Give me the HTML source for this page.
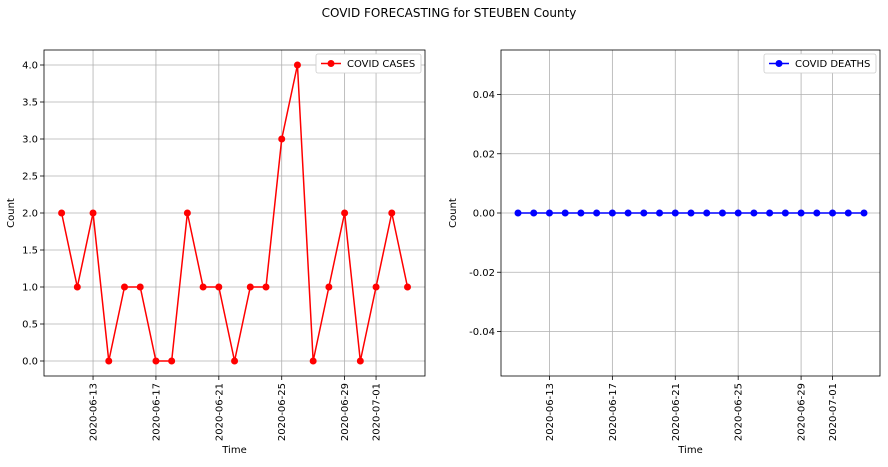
<!DOCTYPE html>
<html><head><meta charset="utf-8"><style>
body{margin:0;background:#fff;font-family:"Liberation Sans","DejaVu Sans",sans-serif;}
svg text{font-family:"DejaVu Sans","Liberation Sans",sans-serif;}
</style></head><body>
<svg id="c" width="888" height="462" xmlns="http://www.w3.org/2000/svg">
<text x="449" y="17" font-size="12" text-anchor="middle">COVID FORECASTING for STEUBEN County</text>
</svg>
<script>
const dates=["2020-06-11","2020-06-12","2020-06-13","2020-06-14","2020-06-15","2020-06-16","2020-06-17","2020-06-18","2020-06-19","2020-06-20","2020-06-21","2020-06-22","2020-06-23","2020-06-24","2020-06-25","2020-06-26","2020-06-27","2020-06-28","2020-06-29","2020-06-30","2020-07-01","2020-07-02","2020-07-03"];
const cases=[2,1,2,0,1,1,0,0,2,1,1,0,1,1,3,4,0,1,2,0,1,2,1];
const deaths=[0,0,0,0,0,0,0,0,0,0,0,0,0,0,0,0,0,0,0,0,0,0,0];
const xTicks=["2020-06-13","2020-06-17","2020-06-21","2020-06-25","2020-06-29","2020-07-01"];
const casesYTicks=[0,0.5,1,1.5,2,2.5,3,3.5,4];
const deathsYTicks=[-0.04,-0.02,0,0.02,0.04];
const svg=document.getElementById('c');
const NS="http://www.w3.org/2000/svg";
function mk(t,a,p){const e=document.createElementNS(NS,t);for(const k in a)e.setAttribute(k,a[k]);(p||svg).appendChild(e);return e;}
const day=s=>Date.parse(s)/864e5;
function panel(o){
 const g=mk('g',{});
 
 
 const d0=day(dates[0]),d1=day(dates[dates.length-1]);
 const x=s=>o.px0+(day(s)-d0)/(d1-d0)*(o.px1-o.px0);
 const y=v=>o.y0px+(v-o.y0v)/(o.y1v-o.y0v)*(o.y1px-o.y0px);
 mk('rect',{x:o.l,y:50,width:o.r-o.l,height:326,fill:'#fff'},g);
 xTicks.forEach(t=>{const xx=x(t);
  mk('line',{x1:xx,x2:xx,y1:50,y2:376,stroke:'#b0b0b0','stroke-width':0.8},g);
  mk('line',{x1:xx,x2:xx,y1:376,y2:380,stroke:'#000','stroke-width':0.8},g);
  const tx=mk('text',{x:0,y:0,'font-size':10,'text-anchor':'end',transform:`translate(${xx+3.5},383) rotate(-90)`},g);tx.textContent=t;
  
  
 });
 o.yt.forEach(v=>{const yy=y(v);
  mk('line',{x1:o.l,x2:o.r,y1:yy,y2:yy,stroke:'#b0b0b0','stroke-width':0.8},g);
  mk('line',{x1:o.l-4,x2:o.l,y1:yy,y2:yy,stroke:'#000','stroke-width':0.8},g);
  const tx=mk('text',{x:o.l-6,y:yy+3.5,'font-size':10,'text-anchor':'end'},g);tx.textContent=o.fmt(v);
  
  
 });
 mk('rect',{x:o.l,y:50,width:o.r-o.l,height:326,fill:'none',stroke:'#000','stroke-width':0.8},g);
 const pl=mk('polyline',{points:dates.map((d,i)=>x(d)+','+y(o.vals[i])).join(' '),fill:'none',stroke:o.col,'stroke-width':1.5},g);
 
 
 dates.forEach((d,i)=>{const c=mk('circle',{cx:x(d),cy:y(o.vals[i]),r:3.5,fill:o.col},g);
  
  });
 const xl=mk('text',{x:(o.l+o.r)/2,y:453,'font-size':10,'text-anchor':'middle'},g);xl.textContent='Time';
 
 
 const yl=mk('text',{x:0,y:0,'font-size':10,'text-anchor':'middle',transform:`translate(${o.l-o.ylOff},213) rotate(-90)`},g);yl.textContent='Count';
 
 
 const lg=mk('g',{},g);
 
 
 mk('rect',{x:o.lgx,y:54,width:o.r-4-o.lgx,height:19,rx:2,fill:'#fff',stroke:'#ccc','stroke-width':0.8},lg);
 mk('line',{x1:o.lgx+5,x2:o.lgx+25,y1:63.5,y2:63.5,stroke:o.col,'stroke-width':1.5},lg);
 mk('circle',{cx:o.lgx+15,cy:63.5,r:3.5,fill:o.col},lg);
 const lt=mk('text',{x:o.lgx+31,y:67,'font-size':10},lg);lt.textContent=o.label;
}
panel({name:'cases-panel',l:44,r:425,px0:61.6,px1:407.5,y0v:0,y0px:361,y1v:4,y1px:65,yt:casesYTicks,vals:cases,col:'#ff0000',fmt:v=>v.toFixed(1),label:'COVID CASES',lgx:316,ylOff:30});
panel({name:'deaths-panel',l:501,r:880,px0:518,px1:864,y0v:0,y0px:213,y1v:0.04,y1px:94.5,yt:deathsYTicks,vals:deaths,col:'#0000ff',fmt:v=>v.toFixed(2),label:'COVID DEATHS',lgx:764,ylOff:45});
</script>
</body></html>
